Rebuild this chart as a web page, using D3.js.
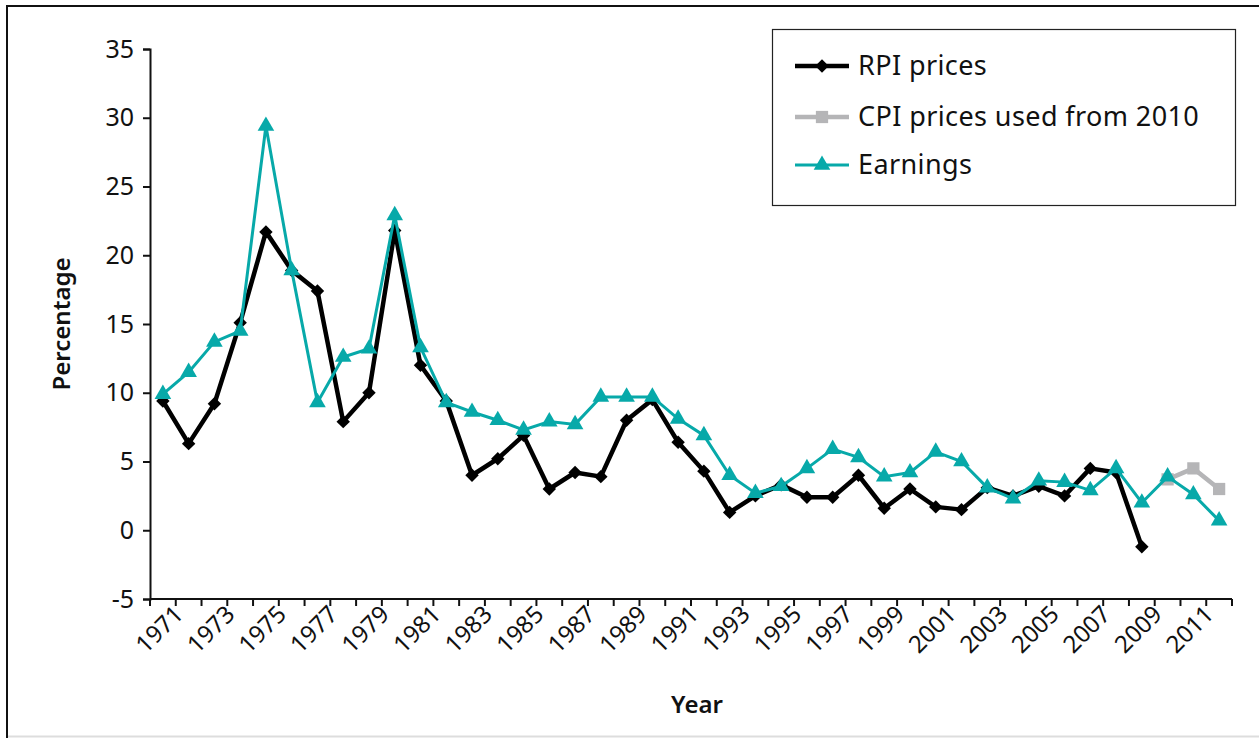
<!DOCTYPE html>
<html>
<head>
<meta charset="utf-8">
<script src="https://cdn.jsdelivr.net/npm/d3@7"></script>
<style>
  body { margin: 0; background: #fff; }
  svg text { font-family: "Noto Sans", "Open Sans", sans-serif; fill: #111; }
</style>
</head>
<body>
<div id="chart"></div>
<script>
// years 1971..2012
var years = [1971,1972,1973,1974,1975,1976,1977,1978,1979,1980,1981,1982,1983,1984,
  1985,1986,1987,1988,1989,1990,1991,1992,1993,1994,1995,1996,1997,1998,1999,2000,
  2001,2002,2003,2004,2005,2006,2007,2008,2009,2010,2011,2012];

// RPI prices, 1971-2009
var rpi = [9.4,6.3,9.2,15.1,21.7,18.9,17.4,7.9,10.0,21.8,12.0,9.4,4.0,5.2,6.9,3.0,
  4.2,3.9,8.0,9.5,6.4,4.3,1.3,2.5,3.3,2.4,2.4,4.0,1.6,3.0,1.7,1.5,3.1,2.5,3.2,2.5,
  4.5,4.2,-1.2];

// CPI prices used from 2010
var cpiYears = [2010, 2011, 2012];
var cpi = [3.7, 4.5, 3.0];

// Earnings, 1971-2012
var earnings = [9.9,11.5,13.7,14.5,29.4,18.9,9.3,12.6,13.2,22.9,13.3,9.3,8.6,8.0,
  7.3,7.9,7.7,9.7,9.7,9.7,8.1,6.9,4.0,2.7,3.2,4.5,5.9,5.3,3.9,4.2,5.7,5.0,3.1,2.3,
  3.6,3.5,2.9,4.5,2.0,3.9,2.6,0.7];

var yTicks = [-5,0,5,10,15,20,25,30,35];

var width = 1259, height = 738;
var mLeft = 150, mRight = 1232, mTop = 49, mBottom = 599;

var svg = d3.select("#chart").append("svg")
    .attr("width", width)
    .attr("height", height);

// outer frame
svg.append("line").attr("x1", 7).attr("x2", 7).attr("y1", 6).attr("y2", 738)
    .attr("stroke", "#111").attr("stroke-width", 2);
svg.append("line").attr("x1", 6).attr("x2", 1259).attr("y1", 6).attr("y2", 6)
    .attr("stroke", "#111").attr("stroke-width", 2);
svg.append("line").attr("x1", 8).attr("x2", 1259).attr("y1", 736.5).attr("y2", 736.5)
    .attr("stroke", "#ddd").attr("stroke-width", 2);

var x = d3.scaleBand()
    .domain(years)
    .range([mLeft, mRight])
    .padding(0);

var y = d3.scaleLinear()
    .domain([-5, 35])
    .range([mBottom, mTop]);

function cx(yr) { return x(yr) + x.bandwidth() / 2; }

// y axis
var gy = svg.append("g")
    .attr("transform", "translate(" + mLeft + ",0)")
    .call(d3.axisLeft(y).tickValues(yTicks).tickSize(7).tickPadding(9)
        .tickFormat(function(d) { return String(d); }));
gy.select(".domain").attr("stroke", "#111").attr("stroke-width", 2);
gy.selectAll(".tick line").attr("stroke", "#111").attr("stroke-width", 2);
gy.selectAll(".tick text")
    .style("font-size", "25px")
    .style("font-family", "'Noto Sans', sans-serif")
    .attr("fill", "#111");

// x axis: tick marks at band edges
var gx = svg.append("g")
    .attr("transform", "translate(0," + mBottom + ")");
gx.append("line")
    .attr("x1", mLeft).attr("x2", mRight)
    .attr("stroke", "#111").attr("stroke-width", 2);
var edges = years.map(function(d) { return x(d); }).concat([mRight]);
gx.selectAll(".edge")
    .data(edges)
    .enter().append("line")
    .attr("class", "edge")
    .attr("x1", function(d) { return d; })
    .attr("x2", function(d) { return d; })
    .attr("y1", 0).attr("y2", 7)
    .attr("stroke", "#111").attr("stroke-width", 2);

gx.selectAll(".xlab")
    .data(years.filter(function(d) { return d % 2 === 1; }))
    .enter().append("text")
    .attr("class", "xlab")
    .attr("transform", function(d) {
        return "translate(" + (cx(d) + 9) + ",4) rotate(-45)";
    })
    .attr("text-anchor", "end")
    .attr("dy", "0.75em")
    .style("font-size", "24px")
    .text(function(d) { return d; });

// axis titles
svg.append("text")
    .attr("x", 697).attr("y", 713)
    .attr("text-anchor", "middle")
    .style("font-size", "24px")
    .style("font-weight", "600")
    .text("Year");

svg.append("text")
    .attr("transform", "translate(70,324) rotate(-90)")
    .attr("text-anchor", "middle")
    .style("font-size", "24px")
    .style("font-weight", "600")
    .text("Percentage");

var line = d3.line()
    .x(function(d) { return cx(d[0]); })
    .y(function(d) { return y(d[1]); });

var rpiData = rpi.map(function(v, i) { return [years[i], v]; });
var cpiData = cpi.map(function(v, i) { return [cpiYears[i], v]; });
var earnData = earnings.map(function(v, i) { return [years[i], v]; });

var teal = "#07a9a9", grey = "#b5b5b7";

// CPI
svg.append("path").datum(cpiData)
    .attr("d", line).attr("fill", "none")
    .attr("stroke", grey).attr("stroke-width", 4.5);
svg.selectAll(".cpiPt").data(cpiData).enter().append("path")
    .attr("class", "cpiPt")
    .attr("d", d3.symbol().type(d3.symbolSquare).size(150))
    .attr("transform", function(d) { return "translate(" + cx(d[0]) + "," + y(d[1]) + ")"; })
    .attr("fill", grey);

// RPI
svg.append("path").datum(rpiData)
    .attr("d", line).attr("fill", "none")
    .attr("stroke", "#000").attr("stroke-width", 4.5)
    .attr("stroke-linejoin", "round");
svg.selectAll(".rpiPt").data(rpiData).enter().append("path")
    .attr("class", "rpiPt")
    .attr("d", d3.symbol().type(d3.symbolSquare).size(90))
    .attr("transform", function(d) { return "translate(" + cx(d[0]) + "," + y(d[1]) + ") rotate(45)"; })
    .attr("fill", "#000");

// Earnings
svg.append("path").datum(earnData)
    .attr("d", line).attr("fill", "none")
    .attr("stroke", teal).attr("stroke-width", 3);
svg.selectAll(".earnPt").data(earnData).enter().append("path")
    .attr("class", "earnPt")
    .attr("d", d3.symbol().type(d3.symbolTriangle).size(120))
    .attr("transform", function(d) { return "translate(" + cx(d[0]) + "," + y(d[1]) + ")"; })
    .attr("fill", teal);

// legend
var lg = svg.append("g");
lg.append("rect")
    .attr("x", 772.5).attr("y", 29.5)
    .attr("width", 463).attr("height", 176)
    .attr("fill", "#fff").attr("stroke", "#222").attr("stroke-width", 1.2);

var legendItems = [
    { name: "RPI prices", color: "#000", sym: "diamond", w: 4.5 },
    { name: "CPI prices used from 2010", color: grey, sym: "square", w: 4.5 },
    { name: "Earnings", color: teal, sym: "triangle", w: 3 }
];
var rowY = [66, 117, 165];
legendItems.forEach(function(it, i) {
    var ly = rowY[i];
    lg.append("line")
        .attr("x1", 795).attr("x2", 849).attr("y1", ly).attr("y2", ly)
        .attr("stroke", it.color).attr("stroke-width", it.w);
    var sym = it.sym === "triangle" ? d3.symbolTriangle : d3.symbolSquare;
    var size = it.sym === "triangle" ? 120 : (it.sym === "square" ? 150 : 90);
    lg.append("path")
        .attr("d", d3.symbol().type(sym).size(size))
        .attr("transform", "translate(822," + ly + ")" + (it.sym === "diamond" ? " rotate(45)" : ""))
        .attr("fill", it.color);
    lg.append("text")
        .attr("x", 858).attr("y", ly)
        .attr("dy", "0.35em")
        .style("font-size", "27px")
        .style("letter-spacing", "0.4px")
        .text(it.name);
});
</script>
</body>
</html>
